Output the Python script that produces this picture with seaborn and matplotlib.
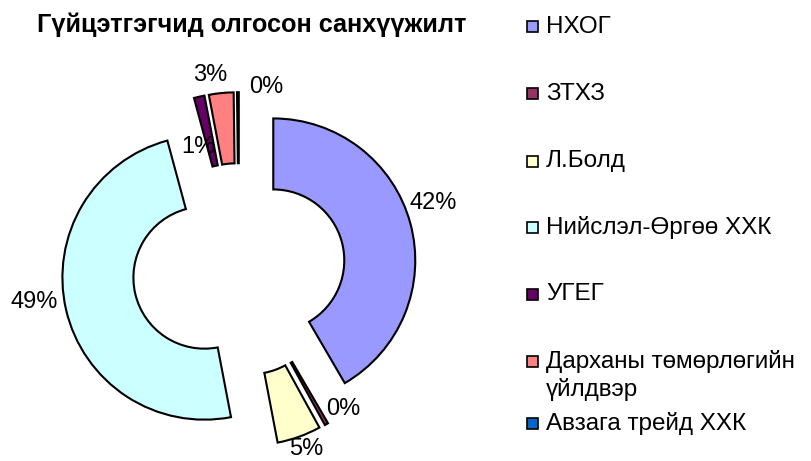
import matplotlib
matplotlib.use("Agg")
import matplotlib.pyplot as plt
from matplotlib.patches import Rectangle
import seaborn as sns

sns.set_theme(style="white")
plt.rcParams["font.family"] = ["Liberation Sans", "DejaVu Sans"]

# data
companies = [
    "НХОГ",
    "ЗТХЗ",
    "Л.Болд",
    "Нийслэл-Өргөө ХХК",
    "УГЕГ",
    "Дарханы төмөрлөгийн\nүйлдвэр",
    "Авзага трейд ХХК",
]
shares = [41.6, 0.4, 5.0, 48.8, 1.2, 2.8, 0.2]
colors = ["#9999FF", "#993366", "#FFFFCC", "#CCFFFF", "#660066", "#FF8080", "#0066CC"]
title = "Гүйцэтгэгчид олгосон санхүүжилт"

# layout (pixels of an 811x461 canvas)
W, H = 811, 461
cx, cy, rad = 239, 269.7, 142          # pie centre and outer radius
pct_pos = [(433, 203), (343, 409), (306, 449), (34, 302), (198, 147), (210, 75), (266, 87)]
legend_y = [27, 94, 161, 227, 294, 361, 423]

fig = plt.figure(figsize=(W / 100, H / 100), dpi=100)
ax_w = 466
ax = fig.add_axes([0, 0, ax_w / W, 1])

wedges, _ = ax.pie(
    shares,
    colors=colors,
    startangle=90,
    counterclock=False,
    explode=[0.25] * len(shares),
    wedgeprops=dict(width=0.5, edgecolor="black", linewidth=1.5),
)
ax.set_aspect("auto")
ax.set_xlim(-cx / rad, (ax_w - cx) / rad)
ax.set_ylim(-(H - cy) / rad, cy / rad)
ax.axis("off")

for v, (px, py) in zip(shares, pct_pos):
    ax.text((px - cx) / rad, (cy - py) / rad, f"{round(v)}%",
            ha="center", va="center", fontsize=17, color="black")

fig.text(252 / W, 1 - 25 / H, title, ha="center", va="center",
         fontsize=18.2, fontweight="bold", color="black")

# legend drawn entry by entry
sq = 11
for name, col, y in zip(companies, colors, legend_y):
    fig.patches.append(Rectangle((527 / W, 1 - (y + sq / 2) / H), sq / W, sq / H,
                                 transform=fig.transFigure, facecolor=col,
                                 edgecolor="black", linewidth=1.2))
    fig.text(546 / W, 1 - (y - 11) / H, name, ha="left", va="top",
             fontsize=17.5, color="black", linespacing=1.3)

fig.savefig("out.png", dpi=100, facecolor="white")
